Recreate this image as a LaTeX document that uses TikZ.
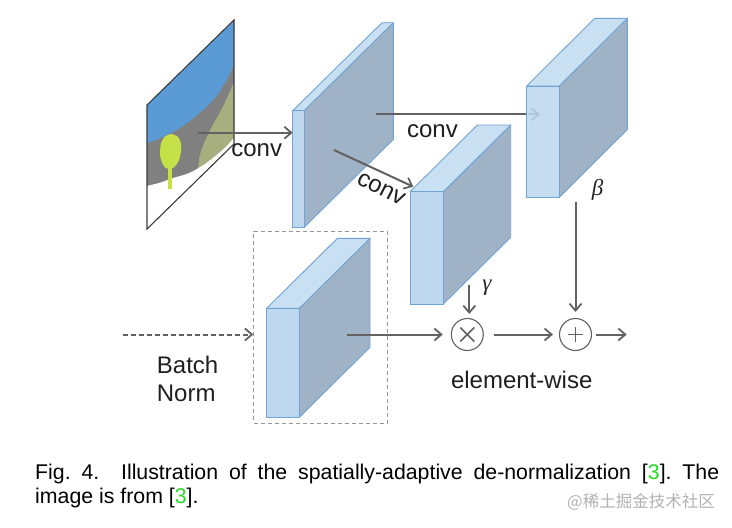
\documentclass[tikz,border=0pt]{standalone}
\usepackage{fontspec}
\setmainfont{Liberation Sans}
\newfontfamily\cjk{Noto Sans CJK SC}
\newfontfamily\grk{Liberation Serif}
\usetikzlibrary{arrows.meta}
\definecolor{facefront}{RGB}{189,215,238}
\definecolor{facetop}{RGB}{201,223,242}
\definecolor{faceside}{RGB}{160,178,198}
\definecolor{faceedge}{RGB}{112,164,212}
\definecolor{arrowgray}{RGB}{98,98,98}
\definecolor{boxgray}{RGB}{150,150,150}
\definecolor{imgedge}{RGB}{60,60,60}
\definecolor{sky}{RGB}{91,155,213}
\definecolor{road}{RGB}{128,128,128}
\definecolor{grass}{RGB}{166,175,125}
\definecolor{treegreen}{RGB}{198,224,72}
\definecolor{refgreen}{RGB}{40,215,40}
\definecolor{wmgray}{RGB}{178,178,178}
\newcommand{\drawslab}[7]{%
  \filldraw[fill=faceside, draw=faceedge, line width=0.9pt, line join=round]
    ({#1+#3},{#2}) -- ({#1+#3+#5},{#2+#6}) -- ({#1+#3+#5},{#2+#4+#6}) -- ({#1+#3},{#2+#4}) -- cycle;
  \filldraw[fill=facetop, draw=faceedge, line width=0.9pt, line join=round]
    (#1,#2) -- ({#1+#3},{#2}) -- ({#1+#3+#5},{#2+#6}) -- ({#1+#5},{#2+#6}) -- cycle;
  \filldraw[fill=facefront, fill opacity=#7, draw=faceedge, line width=0.9pt]
    (#1,#2) rectangle ({#1+#3},{#2+#4});
}
\tikzset{
  conn/.style={draw=arrowgray, line width=2pt,
    -{Straight Barb[length=7pt,width=12pt,line width=1.8pt]}},
  dashconn/.style={conn, dash pattern=on 5pt off 3pt},
  lbl/.style={font=\fontsize{24}{28}\selectfont, text=black!88, inner sep=0pt},
  greek/.style={font=\grk\itshape\fontsize{23}{26}\selectfont, text=black!85, inner sep=0pt},
  opnode/.style={circle, draw=arrowgray, line width=1.1pt, minimum size=32pt, inner sep=0pt},
  opsym/.style={draw=arrowgray, line width=1.5pt},
  captxt/.style={font=\fontsize{21.3}{25}\selectfont, text=black, inner sep=0pt, anchor=base west}
}
\begin{document}
\begin{tikzpicture}[x=1pt,y=-1pt]
\useasboundingbox (0,0) rectangle (732,528);
\fill[white] (0,0) rectangle (732,528);

% segmentation map
\begin{scope}
  \clip (147,105) -- (234,20) -- (234,144) -- (147,229) -- cycle;
  \fill[road] (140,10) rectangle (240,240);
  \fill[sky] (140,10) -- (240,10) -- (240,65) -- plot[smooth] coordinates
    {(234,65) (226.7,80) (213.3,100) (193.3,118.3) (176.7,130) (160,138.3) (146.7,143.3)}
    -- (140,143.3) -- cycle;
  \fill[grass] (240,80) -- (234,82) -- plot[smooth] coordinates
    {(234,82) (223.3,106) (211.7,127) (203.3,145) (199.5,157) (198,170)}
    -- (198,182) -- (240,182) -- cycle;
  \fill[white] (140,187) -- plot[smooth] coordinates
    {(146.7,186) (160,182.7) (173.3,178) (190,172.7) (206.7,162.7) (223.3,149.3) (234,138)}
    -- (240,137) -- (240,240) -- (140,240) -- cycle;
  \fill[treegreen] plot[smooth cycle] coordinates
    {(171,134) (178.5,137.5) (181.3,147) (179,160) (173,168) (165,167.5) (160.3,157) (160.8,144) (164.5,137)};
  \fill[treegreen] (168.3,162) rectangle (171.6,188.5);
\end{scope}
\draw[imgedge, line width=1.1pt, line join=miter] (147,105) -- (234,20) -- (234,144) -- (147,229) -- cycle;

% feature blocks
\drawslab{292.7}{110.7}{11.3}{116.7}{89.3}{-88}{1}
\drawslab{410}{191.7}{33.3}{112.3}{67.4}{-66.7}{1}
\drawslab{266.7}{308.3}{32.6}{109}{70.7}{-70}{1}

% batch norm box
\node[draw=boxgray, dash pattern=on 4pt off 3pt, line width=1pt, minimum width=133.4pt,
      minimum height=192pt, inner sep=0pt, anchor=north west] (bnbox) at (253.3,230.7) {};

% coordinates
\coordinate (imgout) at (198.3,132.7);
\coordinate (b1in) at (292.7,132.7);
\coordinate (b1a) at (376,114.3);
\coordinate (betain) at (540,114.3);
\coordinate (b1b) at (334,150);
\coordinate (gamin) at (413.3,186.7);
\coordinate (bnsrc) at (123.3,334.5);
\coordinate (bnout) at (346.7,334.5);
\coordinate (gamout) at (469.3,285);
\coordinate (betaout) at (575.5,201.7);
\coordinate (outend) at (626.7,334.5);

% operators
\node[opnode] (mul) at (467.3,334.5) {};
\node[opnode] (add) at (575.5,334.5) {};
\draw[opsym] (mul) ++(-7,-7) -- ++(14,14);
\draw[opsym] (mul) ++(-7,7) -- ++(14,-14);
\draw[opsym] (add) ++(-7.5,0) -- ++(15,0);
\draw[opsym] (add) ++(0,-7.5) -- ++(0,15);

% connectors
\draw[conn] (imgout) -- (b1in);
\draw[conn] (b1b) -- (gamin);
\draw[dashconn] (bnsrc) -- (bnsrc -| bnbox.west);
\draw[conn, shorten >=8pt] (bnout) -- (mul);
\draw[conn, shorten <=10pt, shorten >=6pt] (mul) -- (add);
\draw[conn, shorten <=4pt] (add) -- (outend);
\draw[conn, shorten >=4pt] (gamout) -- (gamout |- mul.north);
\draw[conn, shorten >=6pt] (betaout) -- (add);
\draw[conn] (b1a) -- (betain);

% beta block (front face lets the arrow show faintly)
\drawslab{526.7}{86}{32.6}{111.3}{68}{-67.7}{0.86}

% labels
\node[lbl, anchor=base] (conv1) at (256.7,156.7) {conv};
\node[lbl, anchor=base] (conv2) at (432.5,137.7) {conv};
\node[lbl, rotate=-27] (conv3) at (381,189) {conv};
\node[lbl, anchor=base west] (batch) at (156.7,373.3) {Batch};
\node[lbl, anchor=base west] (norm) at (156.7,401.3) {Norm};
\node[lbl, anchor=base] (ew) at (521.7,388.3) {element-wise};
\node[greek] (gam) at (487,288) {γ};
\node[greek] (bet) at (597.5,189.5) {β};

% caption
\node[captxt] (cap1) at (35,479.3) {\frenchspacing\makebox[684pt][s]{Fig.~4.\ \ Illustration of the spatially-adaptive de-normalization [\textcolor{refgreen}{3}]. The}};
\node[captxt] (cap2) at (35,503.3) {\frenchspacing image is from [\textcolor{refgreen}{3}].};
\node[font=\cjk\fontsize{16.5}{18}\selectfont, text=wmgray, inner sep=0pt, anchor=base east] (wm) at (715,507) {@稀土掘金技术社区};
\end{tikzpicture}
\end{document}
